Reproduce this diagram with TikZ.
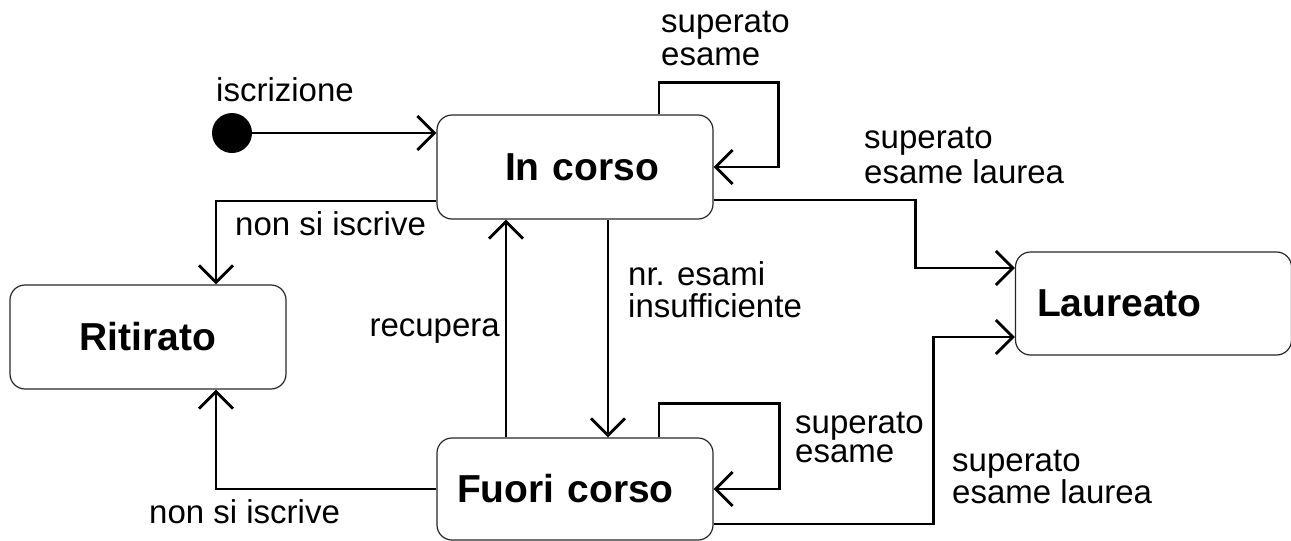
\documentclass[tikz,border=0pt]{standalone}
\usepackage{fontspec}
\setmainfont{Liberation Sans}
\usetikzlibrary{arrows.meta}
\tikzset{
  state/.style={draw=black!85, line width=1.2pt, rounded corners=15pt,
    minimum width=276pt, minimum height=104pt, inner sep=0pt,
    font=\fontsize{39}{44}\selectfont\bfseries},
  conn/.style={line width=2.8pt, -{Straight Barb[length=17pt,width=34pt]}},
  lbl/.style={inner sep=0pt, align=left},
}
\newcommand{\lblfont}[1]{\fontsize{33}{#1}\selectfont}
\begin{document}
\begin{tikzpicture}[x=1pt,y=-1pt]
\useasboundingbox (0,0) rectangle (1291,541);

% states
\node[circle, fill=black, minimum size=40pt, inner sep=0pt] (init) at (232,133) {};
\node[state, text width=276pt, align=center, xshift=0pt] (incorso) at (575,167) {\hspace*{14pt}In corso};
\node[state] (ritirato) at (148,337) {Ritirato};
\node[state, minimum height=102pt, text width=236pt, align=left, inner xsep=20pt] (fuori) at (575,489) {Fuori corso};
\node[state, minimum height=103pt, text width=233pt, align=left, inner xsep=20pt] (laureato) at (1153.5,303.5) {Laureato};

% transitions
\draw[conn] (init) -- (init -| incorso.west);
\draw[conn] ([yshift=-34pt]incorso.west) -| ([xshift=68pt]ritirato.north);
\draw[conn] ([xshift=84pt]incorso.north) -- ++(0,-32) -| ([xshift=65pt]incorso.east) -- (incorso.east);
\draw[conn] ([yshift=-33pt]incorso.east) -- ++(202,0) |- ([yshift=35.5pt]laureato.west);
\draw[conn] ([xshift=33pt]incorso.south) -- ([xshift=33pt]fuori.north);
\draw[conn] ([xshift=-69pt]fuori.north) -- ([xshift=-69pt]incorso.south);
\draw[conn] ([xshift=84pt]fuori.north) -- ++(0,-34) -| ([xshift=66pt]fuori.east) -- (fuori.east);
\draw[conn] (fuori.west) -| ([xshift=68pt]ritirato.south);
\draw[conn] ([yshift=-35pt]fuori.east) -- ++(220,0) |- ([yshift=-33.5pt]laureato.west);

% labels (multi-line ones are placed by the baseline of their last line)
\node[lbl, anchor=base west, font=\lblfont{33}] (l1) at (216,101) {iscrizione};
\node[lbl, anchor=base west, font=\lblfont{33}] (l2) at (661,65) {superato\\esame};
\node[lbl, anchor=base west, font=\lblfont{35}] (l3) at (864,183) {superato\\esame laurea};
\node[lbl, anchor=base west, font=\lblfont{33}] (l4) at (235,235) {non si iscrive};
\node[lbl, anchor=base west, font=\lblfont{32}] (l5) at (628,317) {nr. esami\\insufficiente};
\node[lbl, anchor=base east, font=\lblfont{33}] (l6) at (500,336) {recupera};
\node[lbl, anchor=base west, font=\lblfont{29}] (l7) at (795,462) {superato\\esame};
\node[lbl, anchor=base west, font=\lblfont{30}] (l8) at (952,503) {superato\\esame laurea};
\node[lbl, anchor=base west, font=\lblfont{33}] (l9) at (149,523) {non si iscrive};
\end{tikzpicture}
\end{document}
